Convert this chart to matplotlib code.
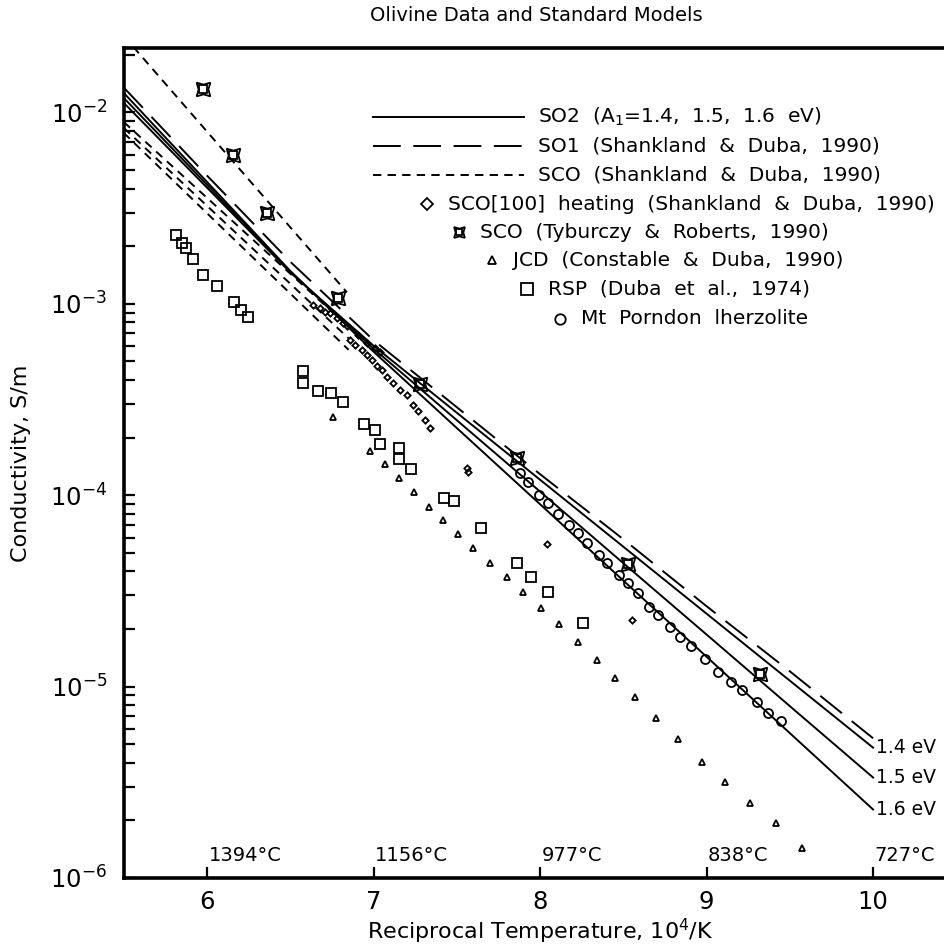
import numpy as np
import matplotlib
matplotlib.use("Agg")
import matplotlib.pyplot as plt

plt.rcParams['font.family'] = ['DejaVu Sans']
plt.rcParams['lines.scale_dashes'] = False

# ---- model curves (x = 10^4/K, values are log10 conductivity)
model_x = [5.5, 6.0, 6.5, 7.0, 7.5, 8.0, 8.5, 9.0, 9.5, 10.0]
so2_14_log = [-1.950, -2.393, -2.836, -3.219, -3.569, -3.919, -4.269, -4.619, -4.969, -5.319]
so2_15_log = [-1.924, -2.378, -2.832, -3.234, -3.608, -3.981, -4.355, -4.728, -5.102, -5.475]
so2_16_log = [-1.898, -2.363, -2.828, -3.250, -3.649, -4.047, -4.446, -4.844, -5.243, -5.642]
so1_log = [-1.870, -2.330, -2.780, -3.190, -3.540, -3.890, -4.230, -4.580, -4.920, -5.270]

sco_x = [5.5, 6.85]
sco_a_log = [-2.050, -3.120]
sco_b_log = [-2.081, -3.180]
sco_c_log = [-2.107, -3.240]
sco_ty_x = [5.5, 6.84]
sco_ty_log = [-1.600, -2.940]

# ---- data sets
diamond_x = [6.638, 6.679, 6.709, 6.739, 6.779, 6.819, 6.839, 6.859, 6.889, 6.909,
             6.929, 6.959, 6.959, 6.989, 7.009, 7.019, 7.039, 7.049, 7.079, 7.119,
             7.159, 7.199, 7.239, 7.269, 7.309, 7.339, 7.559, 7.569, 8.040, 8.551]
diamond_log = [-3.005, -3.023, -3.040, -3.049, -3.075, -3.101, -3.118, -3.188, -3.214, -3.162,
               -3.240, -3.266, -3.205, -3.292, -3.231, -3.327, -3.249, -3.345, -3.380, -3.414,
               -3.449, -3.475, -3.527, -3.562, -3.606, -3.649, -3.858, -3.881, -4.255, -4.650]

tyb_x = [5.976, 6.156, 6.360, 6.787, 7.279, 7.862, 8.529, 9.321]
tyb_log = [-1.877, -2.222, -2.525, -2.969, -3.418, -3.804, -4.358, -4.932]

jcd_x = [6.757, 6.979, 7.069, 7.153, 7.243, 7.333, 7.417, 7.508, 7.598, 7.700,
         7.802, 7.898, 8.006, 8.114, 8.228, 8.342, 8.450, 8.571, 8.697, 8.829,
         8.973, 9.111, 9.261, 9.417, 9.574]
jcd_log = [-3.590, -3.768, -3.836, -3.909, -3.982, -4.060, -4.128, -4.201, -4.274, -4.352,
           -4.426, -4.504, -4.588, -4.671, -4.765, -4.859, -4.953, -5.052, -5.162, -5.272,
           -5.392, -5.501, -5.606, -5.715, -5.841]

rsp_x = [5.814, 5.850, 5.874, 5.916, 5.976, 6.060, 6.162, 6.204, 6.246, 6.577,
         6.577, 6.667, 6.745, 6.817, 6.943, 7.009, 7.039, 7.153, 7.153, 7.225,
         7.423, 7.483, 7.646, 7.862, 7.946, 8.048, 8.258]
rsp_log = [-2.640, -2.681, -2.708, -2.765, -2.849, -2.906, -2.990, -3.031, -3.068, -3.350,
           -3.413, -3.454, -3.465, -3.512, -3.627, -3.658, -3.731, -3.752, -3.809, -3.862,
           -4.013, -4.029, -4.170, -4.352, -4.426, -4.504, -4.666]

mtp_x = [7.880, 7.928, 7.994, 8.048, 8.108, 8.174, 8.228, 8.282, 8.354, 8.402,
         8.474, 8.529, 8.589, 8.655, 8.709, 8.781, 8.841, 8.907, 8.991, 9.069,
         9.147, 9.213, 9.303, 9.369, 9.447]
mtp_log = [-3.883, -3.929, -3.997, -4.039, -4.097, -4.154, -4.196, -4.248, -4.311, -4.352,
           -4.415, -4.457, -4.509, -4.582, -4.624, -4.687, -4.739, -4.786, -4.854, -4.922,
           -4.974, -5.016, -5.078, -5.136, -5.178]

temp_ticks = [6, 7, 8, 9, 10]
temp_labels = ['1394°C', '1156°C', '977°C', '838°C', '727°C']
ev_labels = ['1.4 eV', '1.5 eV', '1.6 eV']

legend_lines = [
    ('-', r'SO2  (A$_1$=1.4,  1.5,  1.6  eV)'),
    ((20, 9), 'SO1  (Shankland  &  Duba,  1990)'),
    ((6, 4.5), 'SCO  (Shankland  &  Duba,  1990)'),
]
legend_marks = [
    ('D', 'SCO[100]  heating  (Shankland  &  Duba,  1990)'),
    ('tyb', 'SCO  (Tyburczy  &  Roberts,  1990)'),
    ('^', 'JCD  (Constable  &  Duba,  1990)'),
    ('s', 'RSP  (Duba  et  al.,  1974)'),
    ('o', 'Mt  Porndon  lherzolite'),
]


def p(v):
    return 10 ** np.asarray(v)


fig = plt.figure(figsize=(9.45, 9.5), dpi=100)
ax = fig.add_axes([0.131, 0.0758, 0.881, 0.8737])
ax.set_yscale('log')
ax.set_xlim(5.5, 10.5)
ax.set_ylim(1e-6, 10 ** -1.663)

lw = 1.4
for vals in (so2_14_log, so2_15_log, so2_16_log):
    ax.plot(model_x, p(vals), color='black', lw=lw)
ax.plot(model_x, p(so1_log), color='black', lw=lw, dashes=(20, 9))
for vals in (sco_a_log, sco_b_log, sco_c_log):
    ax.plot(sco_x, p(vals), color='black', lw=lw, dashes=(6, 4.5))
ax.plot(sco_ty_x, p(sco_ty_log), color='black', lw=lw, dashes=(6, 4.5))

mk = dict(ls='none', mfc='none', mec='black', mew=1.3)
ax.plot(diamond_x, p(diamond_log), marker='D', ms=3.2, **mk)
ax.plot(jcd_x, p(jcd_log), marker='^', ms=4.5, **mk)
ax.plot(rsp_x, p(rsp_log), marker='s', ms=6.5, **mk)
ax.plot(mtp_x, p(mtp_log), marker='o', ms=6.5, **mk)
ax.plot(tyb_x, p(tyb_log), marker=(4, 1, 45), ms=14, **mk)
ax.plot(tyb_x, p(tyb_log), marker='s', ms=6, **mk)

# end labels of the SO2 curves
for vals, lab in zip((so2_14_log, so2_15_log, so2_16_log), ev_labels):
    ax.annotate(lab, xy=(model_x[-1], p(vals[-1])), xytext=(2, 0),
                textcoords='offset points', ha='left', va='center', fontsize=13.5)

# temperature labels along the bottom
for t, lab in zip(temp_ticks, temp_labels):
    ax.annotate(lab, xy=(t, 1e-6), xytext=(1, 9), textcoords='offset points',
                ha='left', va='bottom', fontsize=14)

# legend, drawn by hand
tr = ax.transAxes
row_y = [0.917, 0.882, 0.847, 0.812, 0.778, 0.744, 0.710, 0.674]
for (style, lab), y in zip(legend_lines, row_y):
    kw = dict(color='black', lw=lw, transform=tr)
    if style != '-':
        kw['dashes'] = style
    ax.plot([0.299, 0.481], [y, y], **kw)
    ax.text(0.497, y, lab, transform=tr, ha='left', va='center', fontsize=14.5)
mark_x = [0.364, 0.403, 0.442, 0.484, 0.524]
for (m, lab), x, y in zip(legend_marks, mark_x, row_y[3:]):
    if m == 'tyb':
        ax.plot([x], [y], marker=(4, 1, 45), ms=11, transform=tr, **mk)
        ax.plot([x], [y], marker='s', ms=4.5, transform=tr, **mk)
    else:
        size = {'D': 6, '^': 6, 's': 8, 'o': 7.5}[m]
        ax.plot([x], [y], marker=m, ms=size, transform=tr, **mk)
    ax.text(x + 0.025, y, lab, transform=tr, ha='left', va='center', fontsize=14.5)

for s in ax.spines.values():
    s.set_linewidth(2.6)
ax.tick_params(which='both', direction='in', top=False, right=False, width=1.6)
ax.tick_params(which='major', length=8, pad=12, labelsize=17.5)
ax.tick_params(axis='x', which='major', pad=9)
ax.tick_params(which='minor', length=8)
ax.set_xticks([6, 7, 8, 9, 10])
ax.set_xticklabels(['6', '7', '8', '9', '10'])

ax.set_xlabel('Reciprocal Temperature, 10$^4$/K', fontsize=16, labelpad=2)
ax.set_ylabel('Conductivity, S/m', fontsize=16)
ax.yaxis.set_label_coords(-0.112, 0.5)
fig.text(0.568, 0.984, 'Olivine Data and Standard Models', ha='center', va='center',
         fontsize=14)

fig.savefig('out.png', dpi=100)
